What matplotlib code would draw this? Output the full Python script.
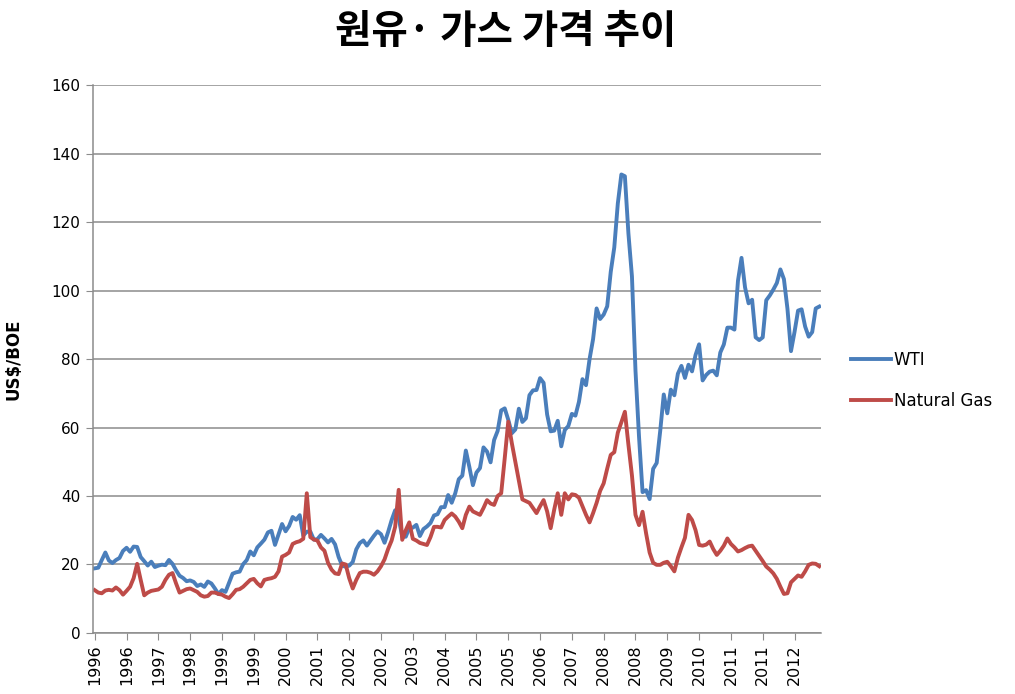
import numpy as np
import matplotlib.pyplot as plt

plt.rcParams['font.family'] = ['DejaVu Sans', 'Noto Sans CJK KR']

# ---- data: monthly, Jan 1996 .. Feb 2013 (US$/BOE) ----
wti = (
    [18.88, 19.06, 21.32, 23.50, 21.17, 20.42, 21.30, 21.90, 23.97, 24.88, 23.71, 25.23] +   # 1996
    [25.13, 22.18, 20.97, 19.70, 20.82, 19.26, 19.66, 19.95, 19.80, 21.33, 20.19, 18.33] +   # 1997
    [16.72, 16.06, 15.12, 15.35, 14.91, 13.72, 14.17, 13.47, 15.03, 14.46, 13.00, 11.35] +   # 1998
    [12.52, 12.01, 14.68, 17.31, 17.72, 17.92, 20.10, 21.28, 23.80, 22.69, 25.00, 26.10] +   # 1999
    [27.26, 29.37, 29.84, 25.72, 28.79, 31.82, 29.70, 31.26, 33.88, 33.08, 34.40, 28.46] +   # 2000
    [29.58, 29.61, 27.24, 27.41, 28.64, 27.60, 26.45, 27.47, 25.88, 22.21, 19.67, 19.33] +   # 2001
    [19.67, 20.74, 24.42, 26.27, 27.02, 25.52, 26.97, 28.39, 29.66, 28.84, 26.35, 29.46] +   # 2002
    [32.95, 35.83, 33.51, 28.17, 28.11, 30.66, 30.76, 31.57, 28.31, 30.34, 31.11, 32.13] +   # 2003
    [34.31, 34.69, 36.74, 36.75, 40.28, 38.03, 40.78, 44.90, 45.94, 53.28, 48.47, 43.15] +   # 2004
    [46.84, 48.15, 54.19, 52.98, 49.83, 56.35, 59.00, 64.99, 65.59, 62.26, 58.32, 59.41] +   # 2005
    [65.49, 61.63, 62.69, 69.44, 70.84, 70.95, 74.41, 73.04, 63.80, 58.89, 59.08, 61.96] +   # 2006
    [54.51, 59.28, 60.44, 63.98, 63.46, 67.49, 74.12, 72.36, 79.92, 85.80, 94.77, 91.69] +   # 2007
    [92.97, 95.39, 105.45, 112.58, 125.40, 133.88, 133.37, 116.67, 104.11, 76.61, 57.31, 41.12] +  # 2008
    [41.71, 39.09, 47.94, 49.65, 59.03, 69.64, 64.15, 71.05, 69.41, 75.72, 77.99, 74.47] +   # 2009
    [78.33, 76.39, 81.20, 84.29, 73.74, 75.34, 76.32, 76.60, 75.24, 81.89, 84.25, 89.15] +   # 2010
    [89.17, 88.58, 102.86, 109.53, 100.90, 96.26, 97.30, 86.33, 85.52, 86.32, 97.16, 98.56] +  # 2011
    [100.27, 102.20, 106.16, 103.32, 94.66, 82.30, 87.90, 94.13, 94.51, 89.49, 86.53, 87.86] +  # 2012
    [94.76, 95.31]                                                                            # 2013
)

gas = (
    [12.5, 11.8, 11.6, 12.4, 12.6, 12.4, 13.3, 12.5, 11.2, 12.3, 13.5, 16.0] +   # 1996
    [20.2, 15.5, 11.0, 11.8, 12.3, 12.5, 12.7, 13.5, 15.5, 17.0, 17.5, 14.5] +   # 1997
    [11.8, 12.3, 12.8, 13.0, 12.5, 12.0, 11.0, 10.6, 10.8, 11.8, 11.8, 11.4] +   # 1998
    [11.2, 10.6, 10.2, 11.3, 12.6, 12.8, 13.5, 14.5, 15.5, 15.8, 14.5, 13.6] +   # 1999
    [15.5, 15.8, 16.0, 16.4, 18.0, 22.3, 22.8, 23.5, 26.0, 26.5, 26.8, 27.5] +   # 2000
    [40.8, 28.0, 27.3, 27.0, 25.0, 24.0, 20.5, 18.5, 17.4, 17.2, 20.3, 20.0] +   # 2001
    [16.0, 13.0, 15.5, 17.5, 17.9, 17.9, 17.6, 17.0, 18.0, 19.5, 21.5, 24.5] +   # 2002
    [27.0, 31.0, 41.8, 27.2, 30.0, 32.3, 27.5, 27.0, 26.3, 26.0, 25.7, 28.0] +   # 2003
    [31.0, 31.0, 30.8, 33.0, 34.0, 34.9, 34.0, 32.5, 30.6, 34.5, 36.9, 35.5] +   # 2004
    [35.0, 34.5, 36.5, 38.8, 37.8, 37.4, 40.0, 40.8, 51.0, 61.7, 55.5, 50.0] +   # 2005
    [44.5, 39.0, 38.5, 38.0, 36.5, 35.0, 37.0, 38.8, 35.5, 30.6, 36.0, 40.8] +   # 2006
    [34.5, 40.8, 39.0, 40.5, 40.3, 39.5, 37.0, 34.5, 32.3, 35.0, 38.0, 41.5] +   # 2007
    [43.7, 48.0, 52.0, 52.8, 58.5, 61.5, 64.6, 55.0, 46.0, 34.5, 31.5, 35.4] +   # 2008
    [29.1, 23.5, 20.5, 19.9, 19.9, 20.5, 20.8, 19.5, 18.0, 22.0, 25.0, 27.8] +   # 2009
    [34.5, 33.0, 30.0, 25.7, 25.5, 25.8, 26.7, 24.5, 22.8, 24.0, 25.5, 27.6] +   # 2010
    [26.0, 25.0, 23.8, 24.2, 24.8, 25.3, 25.5, 24.0, 22.5, 21.0, 19.4, 18.5] +   # 2011
    [17.4, 15.8, 13.5, 11.4, 11.6, 14.8, 15.8, 16.8, 16.4, 18.0, 19.9, 20.3] +   # 2012
    [20.2, 19.5]                                                                   # 2013
)

tick_labels = ['1996', '1996', '1997', '1998', '1999', '1999', '2000', '2001',
               '2002', '2002', '2003', '2004', '2005', '2005', '2006', '2007',
               '2008', '2008', '2009', '2010', '2011', '2011', '2012']
tick_step = 9  # one label every 9 months

series_names = ['WTI', 'Natural Gas']
series_colors = ['#4A7EBB', '#BE4B48']
title = '원유· 가스 가격 추이'

# ---- figure ----
fig = plt.figure(figsize=(10.15, 6.94), dpi=100)
ax = fig.add_axes([0.0916, 0.0879, 0.7173, 0.7896])

x = np.arange(len(wti))
for vals, name, col in zip([wti, gas], series_names, series_colors):
    ax.plot(x, vals, color=col, lw=2.8, label=name, solid_joinstyle='round')

ax.set_xlim(-0.5, len(wti) - 0.5)
ax.set_ylim(0, 160)
ax.set_yticks(np.arange(0, 161, 20))
ax.yaxis.grid(True, color='#8C8C8C', lw=1.1)
ax.set_axisbelow(True)

ax.set_xticks(np.arange(len(tick_labels)) * tick_step)
ax.set_xticklabels(tick_labels, rotation=90, fontsize=11.5)
ax.tick_params(axis='x', direction='out', length=5, color='#8C8C8C', pad=3)
ax.tick_params(axis='y', direction='out', length=5, color='#8C8C8C', labelsize=11, pad=4)

for s in ['top', 'right']:
    ax.spines[s].set_visible(False)
for s in ['left', 'bottom']:
    ax.spines[s].set_color('#8C8C8C')
    ax.spines[s].set_linewidth(1.1)

ax.set_ylabel('US$/BOE', fontsize=12, fontweight='bold')
ax.yaxis.set_label_coords(-0.097, 0.5)

fig.text(0.4985, 0.955, title, ha='center', va='center', fontsize=28.5,
         fontweight='bold', family=['Noto Sans CJK KR', 'DejaVu Sans'])

fig.legend(loc='center left', bbox_to_anchor=(0.838, 0.452), frameon=False,
           fontsize=12, handlelength=2.4, handletextpad=0.2, labelspacing=1.4,
           borderpad=0, borderaxespad=0)

plt.savefig('out.png', dpi=100)
